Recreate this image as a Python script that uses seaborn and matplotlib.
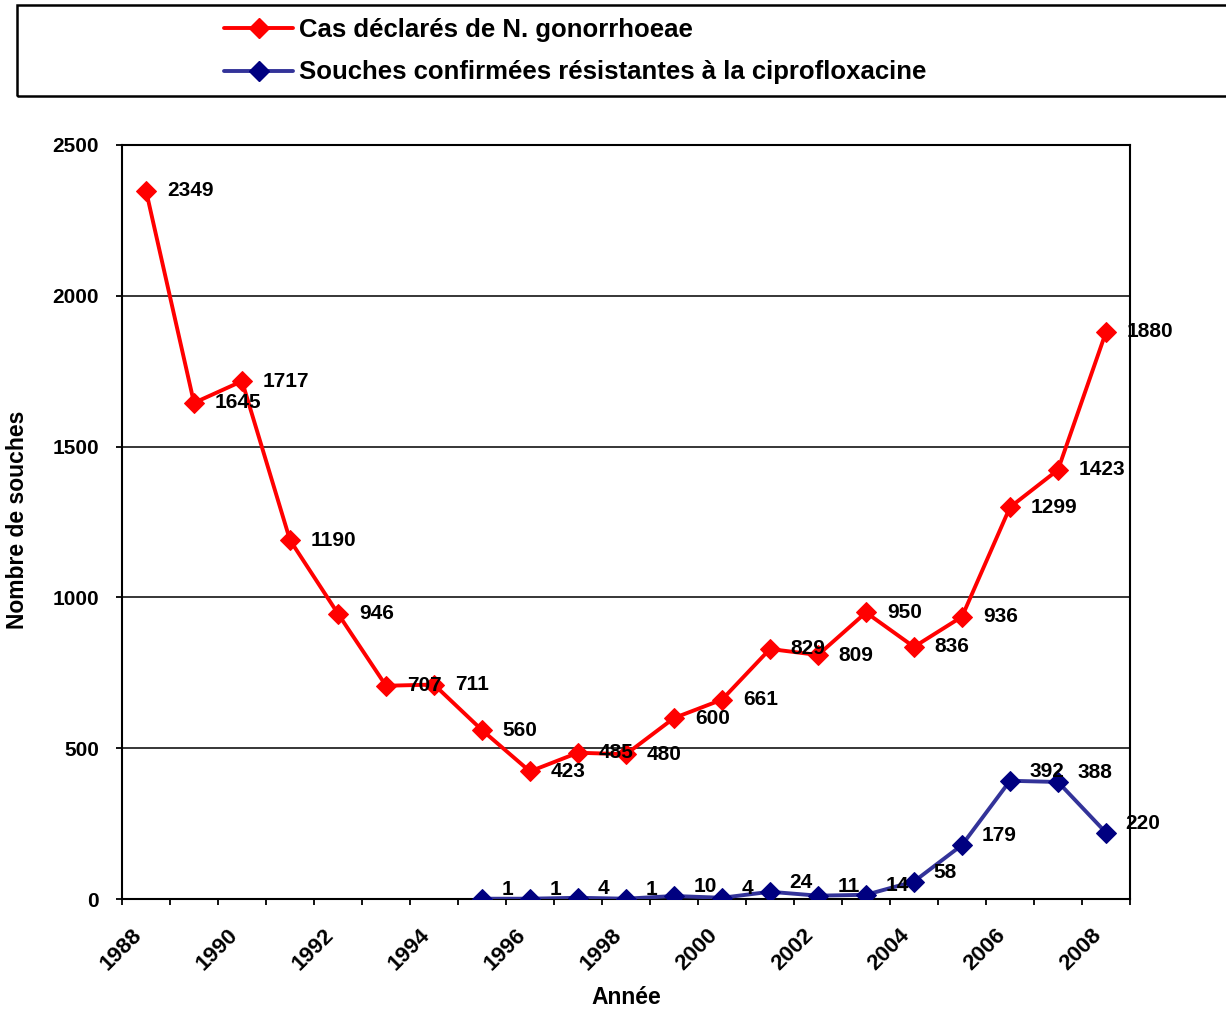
import matplotlib
matplotlib.use("Agg")
import matplotlib.pyplot as plt
import matplotlib.transforms as mtransforms
import seaborn as sns
import pandas as pd
from matplotlib.lines import Line2D
from matplotlib.patches import Rectangle

# ---- data ----
years_cases = list(range(1988, 2009))
cases = [2349, 1645, 1717, 1190, 946, 707, 711, 560, 423, 485, 480,
         600, 661, 829, 809, 950, 836, 936, 1299, 1423, 1880]
years_res = list(range(1995, 2009))
resistant = [1, 1, 4, 1, 10, 4, 24, 11, 14, 58, 179, 392, 388, 220]
year_ticks = list(range(1988, 2010))
label_cases = "Cas déclarés de N. gonorrhoeae"
label_res = "Souches confirmées résistantes à la ciprofloxacine"
y_ticks = [0, 500, 1000, 1500, 2000, 2500]

sns.set_theme(style="white")
plt.rcParams["font.family"] = ["Liberation Sans", "DejaVu Sans"]
plt.rcParams["font.weight"] = "bold"
for k in ["text.color", "axes.labelcolor", "xtick.color", "ytick.color"]:
    plt.rcParams[k] = "black"

W, H = 1226, 1013
fig = plt.figure(figsize=(W / 100, H / 100), dpi=100)
fig.patch.set_facecolor("white")
ax = fig.add_axes([122 / W, 114 / H, 1008 / W, 754 / H])

red = "#ff0000"
blue_line = "#333399"
blue_mk = "#000080"

df_c = pd.DataFrame({"x": [y + 0.5 for y in years_cases], "v": cases})
df_r = pd.DataFrame({"x": [y + 0.5 for y in years_res], "v": resistant})

sns.lineplot(data=df_c, x="x", y="v", ax=ax, color=red, lw=2.8,
             marker="D", markersize=10, markeredgecolor=red,
             markerfacecolor=red, zorder=4)
sns.lineplot(data=df_r, x="x", y="v", ax=ax, color=blue_line, lw=2.8,
             marker="D", markersize=10, markeredgecolor=blue_mk,
             markerfacecolor=blue_mk, zorder=4)

LBL = 15
for x, v in zip(df_c["x"], df_c["v"]):
    ax.annotate(str(v), (x, v), xytext=(15, 0), textcoords="offset points",
                ha="left", va="center", fontsize=LBL, fontweight="bold",
                color="black", zorder=6, annotation_clip=False)
for x, v in zip(df_r["x"], df_r["v"]):
    ax.annotate(str(v), (x, v), xytext=(14, 6.5), textcoords="offset points",
                ha="left", va="center", fontsize=LBL, fontweight="bold",
                color="black", zorder=6, annotation_clip=False)

ax.set_xlim(1988, 2009)
ax.set_ylim(0, 2500)
ax.set_xticks(year_ticks)
ax.set_xticklabels([str(y) if (y % 2 == 0 and y < 2009) else "" for y in year_ticks],
                   rotation=45, ha="right", rotation_mode="anchor",
                   fontsize=16, fontweight="bold")
ax.set_yticks(y_ticks)
ax.set_yticklabels([str(t) for t in y_ticks], fontsize=15, fontweight="bold")
ax.tick_params(axis="both", direction="out", length=4.5, width=1.3, color="black",
               bottom=True, left=True)
ax.tick_params(axis="x", pad=14)
ax.tick_params(axis="y", pad=12)
offset = mtransforms.ScaledTranslation(9 / 100, 0, fig.dpi_scale_trans)
for lab in ax.get_xticklabels():
    lab.set_transform(lab.get_transform() + offset)
ax.grid(axis="y", color="black", lw=1.1)
ax.set_axisbelow(True)
for s in ax.spines.values():
    s.set_visible(True)
    s.set_color("black")
    s.set_linewidth(1.5)
ax.set_xlabel("")
ax.set_ylabel("")

fig.text(18 / W, 1 - 520 / H, "Nombre de souches", rotation=90, ha="center",
         va="center", fontsize=16.5, fontweight="bold")
fig.text(626 / W, 1 - 997 / H, "Année", ha="center", va="center",
         fontsize=16.5, fontweight="bold")

# legend box
fig.add_artist(Rectangle((17 / W, 1 - 96 / H), 1300 / W, 91 / H,
                         transform=fig.transFigure, fill=False,
                         ec="black", lw=1.8, clip_on=False))
handles = [
    Line2D([], [], color=red, lw=2.8, marker="D", markersize=10,
           markerfacecolor=red, markeredgecolor=red),
    Line2D([], [], color=blue_line, lw=2.8, marker="D", markersize=10,
           markerfacecolor=blue_mk, markeredgecolor=blue_mk),
]
fig.legend(handles, [label_cases, label_res], loc="upper left",
           bbox_to_anchor=(224 / W, 1 - 18 / H), frameon=False,
           prop={"size": 18.5, "weight": "bold"}, handlelength=2.7,
           handletextpad=0.2, labelspacing=0.72, borderpad=0,
           borderaxespad=0)

fig.savefig("out.png", dpi=100)
